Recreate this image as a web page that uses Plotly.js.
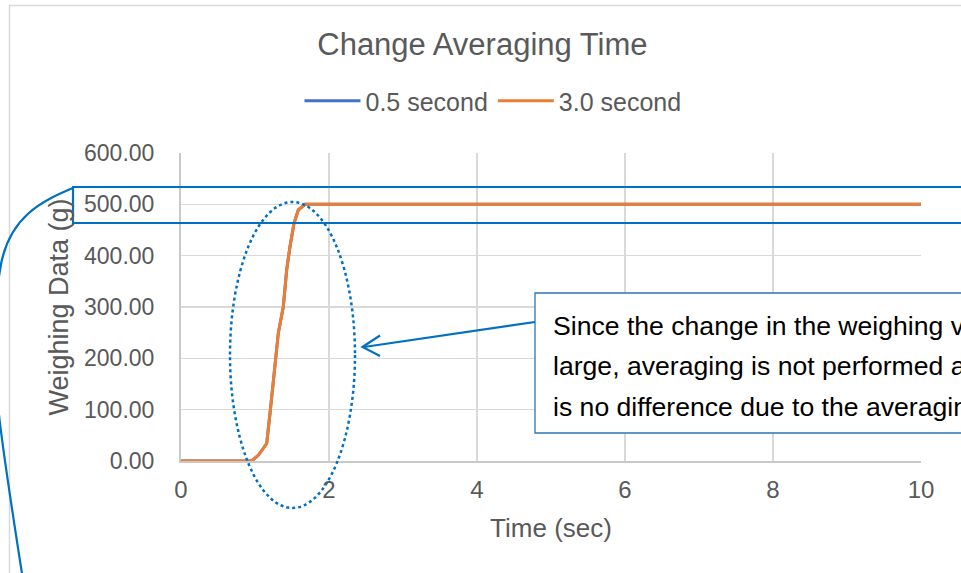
<!DOCTYPE html>
<html>
<head>
<meta charset="utf-8">
<script src="https://cdn.plot.ly/plotly-3.0.1.min.js"></script>
<style>
html,body{margin:0;padding:0;background:#fff;overflow:hidden;}
#chart{width:961px;height:573px;}
</style>
</head>
<body>
<div id="chart"></div>
<script>
// ---- data ----
const seriesNames = ["0.5 second", "3.0 second"];
const timeSec = [0, 0.5, 0.955, 1.05, 1.158, 1.203, 1.27, 1.315, 1.383, 1.428, 1.473, 1.527, 1.585, 1.676, 3, 5, 7, 10];
const weighing05 = [0, 0, 0, 12, 34, 93, 184, 249, 301, 372, 418, 463, 489, 500, 500, 500, 500, 500];
const weighing30 = [0, 0, 0, 12, 34, 93, 184, 249, 301, 372, 418, 463, 489, 500, 500, 500, 500, 500];
const xTicks = [0, 2, 4, 6, 8, 10];
const yTicks = [0, 100, 200, 300, 400, 500, 600];
const noteLines = [
  "Since the change in the weighing value is",
  "large, averaging is not performed and there",
  "is no difference due to the averaging time."
];

// ---- layout geometry (pixels) ----
const L = 181, T = 153, W = 740, H = 308;
const px = x => (x - L) / W;
const py = y => 1 - (y - T) / H;
function pathPx(cmds) {
  return cmds.map(c => c[0] + c.slice(1).map((v, i) => (i % 2 === 0 ? px(v) : py(v)).toFixed(5)).join(',')).join(' ');
}

const FONT = "Liberation Sans, Arial, sans-serif";
const GREY = "#595959";
const BLUE = "#0070C0";

const traces = [
  {x: timeSec, y: weighing05, name: seriesNames[0], mode: "lines", line: {color: "#4472C4", width: 3}},
  {x: timeSec, y: weighing30, name: seriesNames[1], mode: "lines", line: {color: "#ED7D31", width: 3}}
];

const shapes = [
  // chart area border
  {type: "rect", xref: "paper", yref: "paper", x0: px(9.5), x1: px(1200), y0: py(5.5), y1: py(800),
   line: {color: "#d9d9d9", width: 1.5}, layer: "below"},
  // rectangle around 500 level
  {type: "rect", xref: "paper", yref: "paper", x0: px(73), x1: px(1000), y0: py(223), y1: py(187),
   line: {color: BLUE, width: 2.2}, layer: "above"},
  // brace curve
  {type: "path", xref: "paper", yref: "paper", layer: "above",
   path: pathPx([["M", 73, 188], ["C", 45, 200, 8, 215, 0, 270], ["C", -8, 320, -8, 380, -1, 415], ["C", 3, 450, 12, 510, 23, 580]]),
   line: {color: BLUE, width: 2.2}},
  // dotted ellipse
  {type: "circle", xref: "paper", yref: "paper", x0: px(230), x1: px(355), y0: py(508), y1: py(202),
   line: {color: BLUE, width: 2.5, dash: "dot"}, layer: "above"},
  // text box
  {type: "rect", xref: "paper", yref: "paper", x0: px(535), x1: px(1000), y0: py(433), y1: py(293),
   line: {color: "#2E75B6", width: 1.3}, fillcolor: "#ffffff", layer: "above"},
  // arrow line
  {type: "line", xref: "paper", yref: "paper", x0: px(535), y0: py(322), x1: px(364), y1: py(347),
   line: {color: BLUE, width: 2.2}, layer: "above"},
  // arrow head
  {type: "path", xref: "paper", yref: "paper", layer: "above",
   path: pathPx([["M", 380, 335.5], ["L", 362.5, 347], ["L", 380, 356]]),
   line: {color: BLUE, width: 2.2}}
];

const annotations = noteLines.map((t, i) => ({
  xref: "paper", yref: "paper", x: px(551), y: py(325.5 + i * 40.5), xanchor: "left", yanchor: "middle",
  text: t, showarrow: false, align: "left", font: {family: FONT, size: 26.6, color: "#000000"}
}));

const layout = {
  width: 961, height: 573,
  margin: {l: L, r: 961 - L - W, t: T, b: 573 - T - H, pad: 0},
  paper_bgcolor: "#ffffff", plot_bgcolor: "#ffffff",
  font: {family: FONT, color: GREY},
  title: {text: "Change Averaging Time", xref: "container", x: 0.502, xanchor: "center",
          yref: "container", y: 1 - 44 / 573, yanchor: "middle", font: {family: FONT, size: 31, color: GREY}},
  showlegend: true,
  legend: {orientation: "h", xref: "paper", x: px(493), xanchor: "center", yref: "paper", y: py(101), yanchor: "middle",
           font: {family: FONT, size: 25, color: GREY}, bgcolor: "rgba(0,0,0,0)", itemwidth: 56, tracegroupgap: 0},
  xaxis: {range: [0, 10], tickvals: xTicks, ticktext: xTicks.map(String), showgrid: true, gridcolor: "#d9d9d9", gridwidth: 1.3,
          zeroline: false, showline: true, linecolor: "#c9c9c9", linewidth: 2, ticks: "", ticklabelstandoff: 6,
          tickfont: {family: FONT, size: 24, color: GREY},
          title: {text: "Time (sec)", standoff: 17, font: {family: FONT, size: 26, color: GREY}}},
  yaxis: {range: [0, 600], tickvals: yTicks, tickformat: ".2f", showgrid: true, gridcolor: "#d9d9d9", gridwidth: 1.3,
          zeroline: false, showline: true, linecolor: "#c9c9c9", linewidth: 2, ticks: "", ticklabelstandoff: 20,
          tickfont: {family: FONT, size: 23, color: GREY},
          title: {text: "Weighing Data (g)", standoff: 8, font: {family: FONT, size: 27, color: GREY}}},
  shapes: shapes,
  annotations: annotations
};

Plotly.newPlot("chart", traces, layout, {displayModeBar: false, staticPlot: true});
</script>
</body>
</html>
